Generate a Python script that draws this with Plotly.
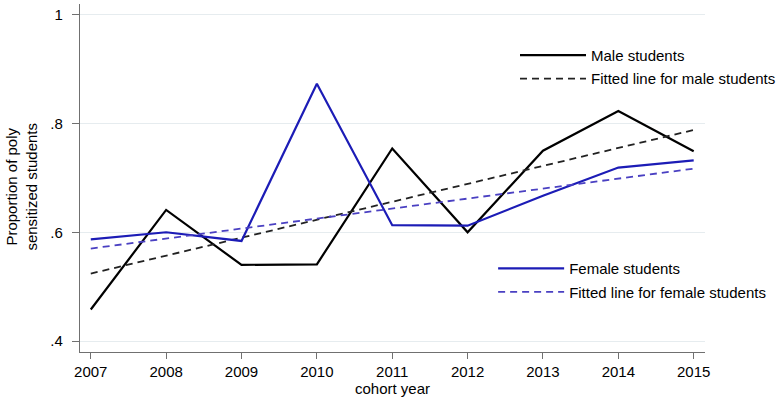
import plotly.graph_objects as go

years = [2007, 2008, 2009, 2010, 2011, 2012, 2013, 2014, 2015]
male = [0.458, 0.641, 0.540, 0.541, 0.754, 0.600, 0.750, 0.823, 0.749]
female = [0.587, 0.600, 0.584, 0.873, 0.613, 0.612, 0.667, 0.719, 0.732]
fit_years = [2007, 2015]
male_fit = [0.524, 0.788]
female_fit = [0.570, 0.717]

y_tickvals = [0.4, 0.6, 0.8, 1.0]
y_ticktext = [".4", ".6", ".8", "1"]
y_title = "Proportion of poly<br>sensitized students"

FONT = "Liberation Sans, Arial, sans-serif"
BLUE = "#1c1cb6"
BLUE_FIT = "#4a40c2"

fig = go.Figure()
fig.add_trace(go.Scatter(x=years, y=male, mode="lines", name="Male students",
                         line=dict(color="black", width=2.2), legend="legend", legendgroup="a"))
fig.add_trace(go.Scatter(x=fit_years, y=male_fit, mode="lines", name="Fitted line for male students",
                         line=dict(color="#222222", width=1.8, dash="7px,5px"), legend="legend", legendgroup="b"))
fig.add_trace(go.Scatter(x=years, y=female, mode="lines", name="Female students",
                         line=dict(color=BLUE, width=2.2), legend="legend2", legendgroup="c"))
fig.add_trace(go.Scatter(x=fit_years, y=female_fit, mode="lines", name="Fitted line for female students",
                         line=dict(color=BLUE_FIT, width=1.8, dash="7px,5px"), legend="legend2", legendgroup="d"))

legend_common = dict(
    font=dict(family=FONT, size=15, color="black"),
    bgcolor="rgba(0,0,0,0)", borderwidth=0,
    itemwidth=66, tracegroupgap=1,
    xanchor="left", yanchor="top",
)

fig.update_layout(
    width=784, height=403,
    margin=dict(l=80, r=79, t=4, b=51, autoexpand=False),
    paper_bgcolor="white", plot_bgcolor="white",
    font=dict(family=FONT, size=15, color="black"),
    showlegend=True,
    legend=dict(x=0.696, y=0.90, **legend_common),
    legend2=dict(x=0.661, y=0.287, **legend_common),
    xaxis=dict(
        range=[2006.857, 2015.15],
        tickvals=years, ticktext=[str(y) for y in years],
        showgrid=False, zeroline=False, automargin=False,
        showline=True, linecolor="#707070", linewidth=1.3,
        ticks="outside", ticklen=6, tickcolor="#707070", tickwidth=1.3,
        tickfont=dict(family=FONT, size=15, color="black"),
        title=dict(text="cohort year", font=dict(family=FONT, size=15, color="black"), standoff=2),
    ),
    yaxis=dict(
        range=[0.3798, 1.0197],
        tickvals=y_tickvals, ticktext=y_ticktext,
        showgrid=True, gridcolor="#e6ecef", gridwidth=1,
        zeroline=False, automargin=False,
        showline=True, linecolor="#707070", linewidth=1.3,
        ticks="outside", ticklen=7, tickcolor="#707070", tickwidth=1.3,
        ticklabelstandoff=6,
        tickfont=dict(family=FONT, size=15, color="black"),
    ),
    annotations=[dict(
        text=y_title, textangle=-90, showarrow=False,
        xref="paper", yref="paper", x=-0.093, y=0.475,
        xanchor="center", yanchor="middle",
        font=dict(family=FONT, size=15, color="black"),
    )],
)

fig.write_html("out.html", config={"displayModeBar": False},
               post_script="document.body.style.margin='0px';")
